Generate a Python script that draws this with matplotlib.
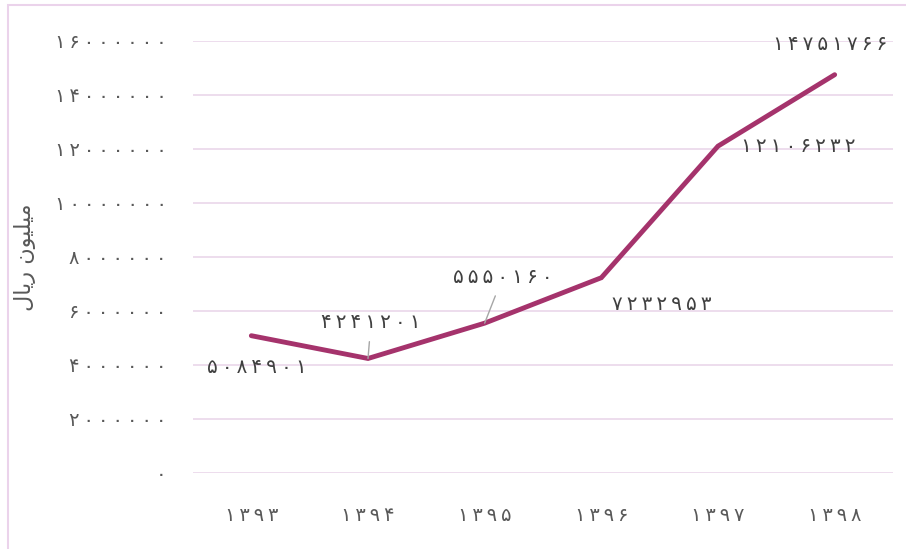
import numpy as np
import matplotlib
matplotlib.use('Agg')
import matplotlib.pyplot as plt
import matplotlib.ticker as mticker
from matplotlib.patches import Rectangle

plt.rcParams['font.family'] = ['DejaVu Sans']

# data
years = ['۱۳۹۳', '۱۳۹۴', '۱۳۹۵', '۱۳۹۶', '۱۳۹۷', '۱۳۹۸']
values = [5084901, 4241201, 5550160, 7232953, 12106232, 14751766]
y_ticks = [0, 2000000, 4000000, 6000000, 8000000, 10000000, 12000000, 14000000, 16000000]
# "میلیون ریال" in shaped presentation forms, visual order (no bidi in matplotlib)
ylabel = '\uFEDD\uFE8E\uFEF3\uFEAD \uFEE5\uFEEE\uFEF4\uFEE0\uFEF4\uFEE3'

# label offsets in pixels, and whether a leader line is drawn
label_off = [(6, -32), (3, 36), (18, 46), (60, -27), (80, 0), (-5, 30)]
leader = [False, True, True, False, False, False]

FA = str.maketrans('0123456789', '۰۱۲۳۴۵۶۷۸۹')
THIN = '\u2009'

def fa(n):
    # persian digits, spaced out a little like the original font
    return THIN.join(str(int(n)).translate(FA))

grey = '#595959'
line_col = '#A5336C'
grid_col = '#EAD7EA'

fig = plt.figure(figsize=(9.06, 5.49), dpi=100, facecolor='w')
fig.patches.append(Rectangle((8/906, -0.1), 1.1, 1.1 - 5/549, transform=fig.transFigure,
                             fill=False, edgecolor='#EBD3EB', lw=1.5, zorder=0))
ax = fig.add_axes([193/906, 76/549, 700/906, 432/549])

x = np.arange(len(years))
ax.plot(x, values, color=line_col, lw=3.5, solid_capstyle='round', solid_joinstyle='miter', zorder=3)

for i, v in enumerate(values):
    dx, dy = label_off[i]
    ap = None
    if leader[i]:
        ap = dict(arrowstyle='-', color='#A6A6A6', lw=1, shrinkA=5, shrinkB=0)
    ax.annotate(fa(v), (x[i], v), xytext=(dx, dy), textcoords='offset pixels',
                ha='center', va='center', fontsize=14.5, color='#404040',
                arrowprops=ap, zorder=4)

ax.set_xlim(-0.5, len(years) - 0.5)
ax.set_ylim(0, 16000000)
ax.set_xticks(x)
ax.set_xticklabels([THIN.join(y) for y in years])
ax.set_yticks(y_ticks)
ax.yaxis.set_major_formatter(mticker.FuncFormatter(lambda v, p: fa(v)))
ax.yaxis.grid(True, color=grid_col, lw=1.2)
ax.set_axisbelow(True)
for s in ax.spines.values():
    s.set_visible(False)
ax.tick_params(axis='both', length=0, colors=grey, labelsize=14)
ax.tick_params(axis='y', pad=19)
ax.tick_params(axis='x', pad=24)

fig.text(25/906, 1 - 257/549, ylabel, rotation=90, ha='center', va='center',
         fontsize=16, color=grey)

fig.savefig('out.png', dpi=100, facecolor='w')
